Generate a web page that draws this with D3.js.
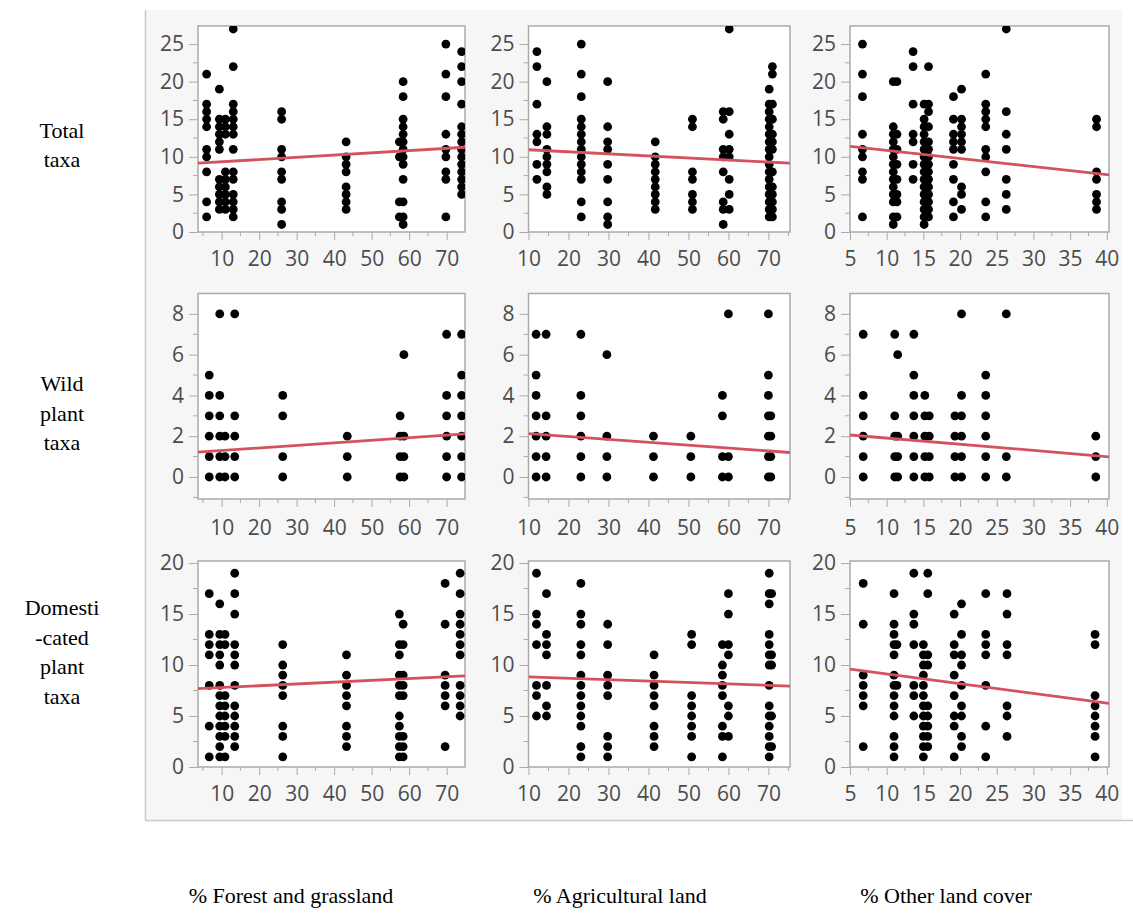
<!DOCTYPE html>
<html>
<head>
<meta charset="utf-8">
<script src="https://cdn.jsdelivr.net/npm/d3@7"></script>
<style>
  html, body { margin: 0; padding: 0; background: #ffffff; }
  svg { display: block; }
</style>
</head>
<body>
<svg id="chart" width="1133" height="924"></svg>
<script>
// ---------------- DATA ----------------
const colLabels = ["% Forest and grassland", "% Agricultural land", "% Other land cover"];
const rowLabels = [["Total", "taxa"], ["Wild", "plant", "taxa"], ["Domesti", "-cated", "plant", "taxa"]];

const xDomains = [[3.7, 74.9], [10, 75.4], [5, 40.3]];
const yDomains = [[0, 27.4], [-1.08, 9.0], [0, 20.2]];

const xTickValues = [[10, 20, 30, 40, 50, 60, 70], [10, 20, 30, 40, 50, 60, 70], [5, 10, 15, 20, 25, 30, 35, 40]];
const xMinorTicks = [[5, 15, 25, 35, 45, 55, 65], [15, 25, 35, 45, 55, 65, 75], [7.5, 12.5, 17.5, 22.5, 27.5, 32.5, 37.5]];
const yTickValues = [[0, 5, 10, 15, 20, 25], [0, 2, 4, 6, 8], [0, 5, 10, 15, 20]];
const yMinorTicks = [[2.5, 7.5, 12.5, 17.5, 22.5], [-1, 1, 3, 5, 7], [2.5, 7.5, 12.5, 17.5]];

// columns of points: [x value, [y values]]
const forestTotal = [
  [6.0, [21,17,16,15,14,11,10,8,4,2]],
  [9.4, [19,15,14,13,12,11,7,6,5,4,3]],
  [11, [15,14,13,8,7,6,5,4,3]],
  [13.1, [27,22,17,16,15,14,13,11,8,7,5,4,3,2]],
  [26, [16,15,11,10,8,7,4,3,1]],
  [43.2, [12,10,9,8,6,5,4,3]],
  [57.4, [12,10,4,2]],
  [58.4, [20,18,15,14,13,12,11,10,9,7,4,2,1]],
  [69.8, [25,21,18,13,11,10,8,7,2]],
  [74, [24,22,20,17,14,13,12,11,10,9,8,7,6,5]]
];
const agriTotal = [
  [12.1, [24,22,17,13,12,9,7]],
  [14.6, [20,14,13,11,10,9,8,6,5]],
  [23.2, [25,21,18,15,14,13,12,11,10,9,8,7,4,2]],
  [29.8, [20,14,12,11,9,7,4,2,1]],
  [41.7, [12,10,9,8,7,6,5,4,3]],
  [51, [15,14,8,7,5,4,3]],
  [58.7, [16,15,11,10,8,4,3,1]],
  [60.2, [27,16,13,11,10,7,5,3]],
  [70.2, [19,17,16,15,14,13,12,11,10,9,8,7,6,5,4,3,2]],
  [71, [22,21,17,15,13,12,11,8,6,5,4,3,2]]
];
const otherTotal = [
  [6.7, [25,21,18,13,11,10,8,7,2]],
  [10.9, [20,14,13,12,11,10,9,8,7,6,5,4,2,1]],
  [11.4, [20,13,11,9,7,5,4,2]],
  [13.6, [24,22,17,13,12,9,7]],
  [15.1, [17,15,14,13,12,11,10,9,8,7,6,5,4,3,2,1]],
  [15.7, [22,17,16,14,12,11,10,9,8,7,6,5,4,3,2]],
  [19.1, [18,15,13,12,11,9,7,4,2]],
  [20.2, [19,15,14,13,12,11,6,5,3]],
  [23.5, [21,17,16,15,14,11,10,8,4,2]],
  [26.3, [27,16,13,11,7,5,3]],
  [38.6, [15,14,8,7,5,4,3]]
];
const forestWild = [
  [6.7, [5,4,3,2,1,0]],
  [9.5, [8,4,3,2,1,0]],
  [10.9, [2,1,0]],
  [13.5, [8,3,2,1,0]],
  [26.3, [4,3,1,0]],
  [43.5, [2,1,0]],
  [57.6, [3,2,1,0]],
  [58.6, [6,2,1,0]],
  [70, [7,4,3,2,1,0]],
  [74, [7,5,4,3,2,1,0]]
];
const agriWild = [
  [11.9, [7,5,4,3,2,1,0]],
  [14.4, [7,3,2,1,0]],
  [23.1, [7,4,3,2,1,0]],
  [29.6, [6,2,1,0]],
  [41.25, [2,1,0]],
  [50.6, [2,1,0]],
  [58.5, [4,3,1,0]],
  [60, [8,1,0]],
  [70, [8,5,4,3,2,1,0]],
  [70.6, [3,2,1,0]]
];
const otherWild = [
  [6.8, [7,4,3,2,1,0]],
  [11.1, [7,3,2,1,0]],
  [11.5, [6,2,1,0]],
  [13.7, [7,5,4,3,2,1,0]],
  [15.2, [4,3,2,1,0]],
  [15.8, [3,2,1,0]],
  [19.3, [3,2,1,0]],
  [20.2, [8,4,3,2,1,0]],
  [23.5, [5,4,3,2,1,0]],
  [26.3, [8,1,0]],
  [38.5, [2,1,0]]
];
const forestDom = [
  [6.7, [17,13,12,11,8,4,1]],
  [9.5, [16,13,12,11,10,8,7,6,5,4,3,2,1]],
  [10.9, [13,12,7,6,5,4,3,1]],
  [13.5, [19,17,15,12,11,10,8,6,5,4,3,2]],
  [26.3, [12,10,9,8,7,4,3,1]],
  [43.3, [11,9,8,7,6,4,3,2]],
  [57.4, [15,12,11,9,8,7,5,4,3,2,1]],
  [58.4, [14,12,9,8,7,3,2,1]],
  [69.6, [18,14,9,8,7,6,2]],
  [73.6, [19,17,15,14,13,12,11,8,7,6,5]]
];
const agriDom = [
  [12, [19,15,14,12,8,7,5]],
  [14.5, [17,13,12,11,8,6,5]],
  [23.1, [18,15,14,12,11,9,8,7,6,5,4,2,1]],
  [29.8, [14,12,9,8,7,3,2,1]],
  [41.4, [11,9,8,7,6,4,3,2]],
  [50.8, [13,12,7,6,5,4,3,1]],
  [58.5, [12,10,9,8,7,4,3,1]],
  [60, [17,15,12,11,6,5,3]],
  [70.2, [19,17,16,13,12,11,10,8,6,5,4,3,2,1]],
  [70.8, [17,11,10,5,2]]
];
const otherDom = [
  [6.8, [18,14,9,8,7,6,2]],
  [11, [17,14,13,12,11,9,8,7,6,5,3,2,1]],
  [11.4, [12,8]],
  [13.7, [19,15,14,12,8,7,5]],
  [15, [12,11,10,9,8,7,6,5,4,3,2,1]],
  [15.6, [19,17,11,10,6,5,4,3,2]],
  [19.2, [15,12,11,9,7,5,4,1]],
  [20.2, [16,13,11,10,8,6,5,3,2]],
  [23.5, [17,13,12,11,8,4,1]],
  [26.4, [17,15,12,11,6,5,3]],
  [38.4, [13,12,7,6,5,4,3,1]]
];

// fitted lines: [[x0, y0], [x1, y1]]
const forestTotalFit = [[3.7, 9.15], [74.9, 11.27]];
const agriTotalFit = [[10, 10.94], [75.4, 9.15]];
const otherTotalFit = [[5, 11.38], [40.3, 7.59]];
const forestWildFit = [[3.7, 1.22], [74.9, 2.11]];
const agriWildFit = [[10, 2.13], [75.4, 1.2]];
const otherWildFit = [[5, 2.06], [40.3, 0.99]];
const forestDomFit = [[3.7, 7.68], [74.9, 8.93]];
const agriDomFit = [[10, 8.83], [75.4, 7.93]];
const otherDomFit = [[5, 9.6], [40.3, 6.23]];

const panelData = [
  [forestTotal, agriTotal, otherTotal],
  [forestWild, agriWild, otherWild],
  [forestDom, agriDom, otherDom]
];
const panelFits = [
  [forestTotalFit, agriTotalFit, otherTotalFit],
  [forestWildFit, agriWildFit, otherWildFit],
  [forestDomFit, agriDomFit, otherDomFit]
];

// ---------------- LAYOUT ----------------
const colRanges = [[198, 465], [528.5, 790], [850, 1109]];
const rowRanges = [[26, 232], [293.5, 499], [561, 767]];
const xLabelPad = [11, 13, 11];

const svg = d3.select("#chart");
const tickFont = "'Open Sans', 'Noto Sans', sans-serif";
const serif = "'Liberation Serif', 'Times New Roman', serif";
const frameColor = "#aaaaaa";
const tickTextColor = "#4c4c4c";

// backdrop
svg.append("rect").attr("x", 145).attr("y", 10).attr("width", 977).attr("height", 810).attr("fill", "#f6f6f6");
svg.append("line").attr("x1", 145.5).attr("x2", 145.5).attr("y1", 10).attr("y2", 820)
  .attr("stroke", "#c8c8c8").attr("stroke-width", 1.5);
svg.append("line").attr("x1", 145).attr("x2", 1133).attr("y1", 820.5).attr("y2", 820.5)
  .attr("stroke", "#c8c8c8").attr("stroke-width", 1.5);

const defs = svg.append("defs");

for (let r = 0; r < 3; r++) {
  for (let c = 0; c < 3; c++) {
    const [x0, x1] = colRanges[c];
    const [y0, y1] = rowRanges[r];
    const x = d3.scaleLinear().domain(xDomains[c]).range([x0, x1]);
    const y = d3.scaleLinear().domain(yDomains[r]).range([y1, y0]);
    const g = svg.append("g");

    g.append("rect").attr("x", x0).attr("y", y0).attr("width", x1 - x0).attr("height", y1 - y0)
      .attr("fill", "#ffffff");

    const clipId = `clip-${r}-${c}`;
    defs.append("clipPath").attr("id", clipId)
      .append("rect").attr("x", x0).attr("y", y0).attr("width", x1 - x0).attr("height", y1 - y0);

    // x axis
    const xAxis = g.append("g").attr("transform", `translate(0,${y1})`)
      .call(d3.axisBottom(x).tickValues(xTickValues[c]).tickSize(8).tickPadding(xLabelPad[r]).tickSizeOuter(0));
    xAxis.append("g").selectAll("line").data(xMinorTicks[c].filter(v => v >= xDomains[c][0] && v <= xDomains[c][1]))
      .join("line").attr("x1", d => x(d)).attr("x2", d => x(d)).attr("y1", 0).attr("y2", 4)
      .attr("stroke", frameColor);
    // y axis
    const yAxis = g.append("g").attr("transform", `translate(${x0},0)`)
      .call(d3.axisLeft(y).tickValues(yTickValues[r]).tickSize(9).tickPadding(5).tickSizeOuter(0));
    yAxis.append("g").selectAll("line").data(yMinorTicks[r].filter(v => v >= yDomains[r][0] && v <= yDomains[r][1]))
      .join("line").attr("y1", d => y(d)).attr("y2", d => y(d)).attr("x1", 0).attr("x2", -5)
      .attr("stroke", frameColor);

    [xAxis, yAxis].forEach(ax => {
      ax.select(".domain").remove();
      ax.selectAll(".tick line").attr("stroke", frameColor);
      ax.selectAll("text").attr("font-family", tickFont).attr("font-size", 21)
        .attr("fill", tickTextColor);
    });

    // frame
    g.append("rect").attr("x", x0).attr("y", y0).attr("width", x1 - x0).attr("height", y1 - y0)
      .attr("fill", "none").attr("stroke", frameColor).attr("stroke-width", 1.5);

    // points
    const pts = [];
    panelData[r][c].forEach(([xv, ys]) => ys.forEach(yv => pts.push([xv, yv])));
    const plot = g.append("g").attr("clip-path", `url(#${clipId})`);
    plot.selectAll("circle").data(pts).join("circle")
      .attr("cx", d => x(d[0])).attr("cy", d => y(d[1])).attr("r", 4.4)
      .attr("fill", "#000000");

    // fit line
    plot.append("path").datum(panelFits[r][c])
      .attr("d", d3.line().x(d => x(d[0])).y(d => y(d[1])))
      .attr("fill", "none").attr("stroke", "#d4525e").attr("stroke-width", 2.8);
  }
}

// row labels
const rowCenters = [145, 413, 652];
rowLabels.forEach((lines, i) => {
  const lh = 29.5;
  const start = rowCenters[i] - (lines.length - 1) * lh / 2;
  const t = svg.append("text").attr("text-anchor", "middle").attr("font-family", serif)
    .attr("font-size", 22).attr("fill", "#000");
  lines.forEach((s, k) => {
    t.append("tspan").attr("x", 62).attr("y", start + k * lh).attr("dy", "0.35em").text(s);
  });
});

// column labels
const colCenters = [291, 620, 946];
colLabels.forEach((s, i) => {
  svg.append("text").attr("x", colCenters[i]).attr("y", 895).attr("dy", "0.35em")
    .attr("text-anchor", "middle").attr("font-family", serif).attr("font-size", 22)
    .attr("fill", "#000").text(s);
});
</script>
</body>
</html>
